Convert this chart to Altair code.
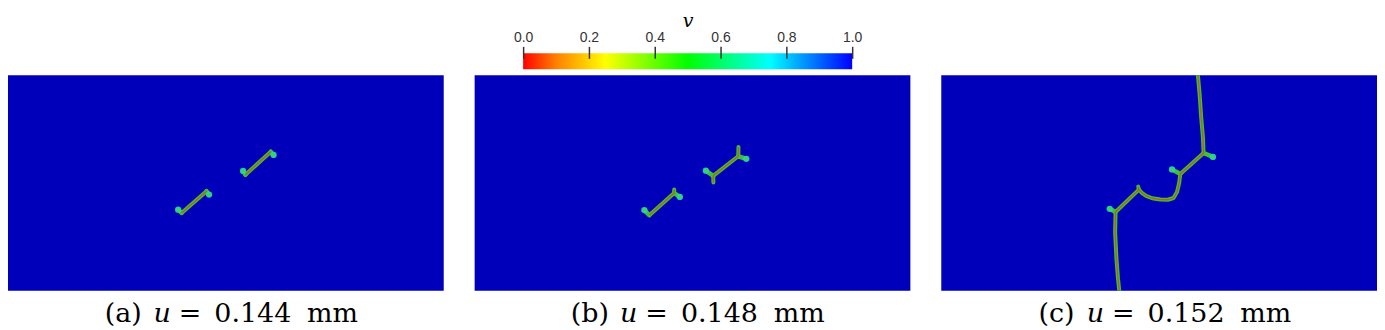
import altair as alt
import pandas as pd

# ---------------- data ----------------
CB_TICKS = [0.0, 0.2, 0.4, 0.6, 0.8, 1.0]
CB_STOP_OFFSETS = [0.0, 0.1, 0.25, 0.5, 0.75, 1.0]
CB_STOP_COLORS = ["#ff0000", "#ff8000", "#ffff00", "#00ff00", "#00ffff", "#0000ff"]

PANEL_LABELS = ["(a)", "(b)", "(c)"]
U_VALUES = ["0.144", "0.148", "0.152"]

# panel (a): crack paths (x, y) in specimen units (2 x 1)
A_CRACKS = [
    [(0.797, 0.361), (0.911, 0.462)],
    [(1.090, 0.538), (1.206, 0.645)],
]
A_STUBS = [
    [(0.797, 0.361), (0.781, 0.376)],
    [(0.911, 0.462), (0.923, 0.446)],
    [(1.090, 0.538), (1.079, 0.556)],
    [(1.206, 0.645), (1.219, 0.630)],
]

# panel (b)
B_CRACKS = [
    [(0.802, 0.350), (0.916, 0.453)],
    [(1.095, 0.533), (1.210, 0.624)],
    [(0.916, 0.453), (0.916, 0.470)],
    [(1.095, 0.533), (1.096, 0.502)],
    [(1.210, 0.624), (1.211, 0.667)],
]
B_STUBS = [
    [(0.802, 0.350), (0.779, 0.374)],
    [(0.916, 0.453), (0.942, 0.435)],
    [(1.095, 0.533), (1.061, 0.557)],
    [(1.210, 0.624), (1.247, 0.612)],
]

# panel (c)
C_CRACKS = [
    [(1.178, 1.000), (1.186, 0.910), (1.193, 0.804), (1.201, 0.712), (1.204, 0.639),
     (1.097, 0.542), (1.092, 0.500), (1.082, 0.458), (1.066, 0.430), (1.040, 0.422),
     (1.006, 0.423), (0.968, 0.429), (0.940, 0.440), (0.922, 0.453), (0.907, 0.469),
     (0.800, 0.365), (0.798, 0.271), (0.804, 0.149), (0.811, 0.058), (0.817, 0.000)],
    [(0.907, 0.469), (0.904, 0.483)],
]
C_STUBS = [
    [(1.204, 0.639), (1.247, 0.621)],
    [(1.097, 0.542), (1.059, 0.563)],
    [(0.800, 0.365), (0.773, 0.380)],
]

# ---------------- style ----------------
PW, PH = 437, 216
BG = "#0000bb"
GREEN = "#3fbf3a"
CORE = "#c8500a"
SERIF = "DejaVu Serif"
CAP_Y = PH + 31
CAP_SIZE = 27
CAP_OFFS = {"lab": -103, "u": -64, "eq": -36, "num": 27, "mm": 107}


def lines_df(paths):
    rows = []
    for pid, path in enumerate(paths):
        for i, (x, y) in enumerate(path):
            rows.append({"pid": pid, "i": i, "x": x, "y": y})
    return pd.DataFrame(rows)


def blobs_df(stubs):
    return pd.DataFrame([{"x": p[-1][0], "y": p[-1][1]} for p in stubs])


XS = alt.Scale(domain=[0, 2], nice=False, zero=False)
YS = alt.Scale(domain=[0, 1], nice=False, zero=False)


def panel(cracks, stubs, label, uval):
    bg = alt.Chart(pd.DataFrame({"x": [0], "x2": [2], "y": [0], "y2": [1]})).mark_rect(
        color=BG).encode(
        x=alt.X("x:Q", scale=XS, axis=None), x2="x2",
        y=alt.Y("y:Q", scale=YS, axis=None), y2="y2")

    cdf = lines_df(cracks)
    sdf = lines_df(stubs)
    enc = dict(x=alt.X("x:Q", scale=XS, axis=None),
               y=alt.Y("y:Q", scale=YS, axis=None),
               detail="pid:N", order="i:Q")
    stub_line = alt.Chart(sdf).mark_line(color=GREEN, strokeWidth=4.5, clip=True,
                                         strokeCap="round").encode(**enc)
    crack_green = alt.Chart(cdf).mark_line(color=GREEN, strokeWidth=4.0, clip=True,
                                           strokeCap="round", strokeJoin="round").encode(**enc)
    crack_core = alt.Chart(cdf).mark_line(color=CORE, strokeWidth=1.3, clip=True,
                                          opacity=0.85, strokeJoin="round").encode(**enc)
    bdf = blobs_df(stubs)
    halo = alt.Chart(bdf).mark_point(filled=True, color="#22d8b0", size=40, opacity=0.9).encode(
        x=alt.X("x:Q", scale=XS, axis=None), y=alt.Y("y:Q", scale=YS, axis=None))
    inner = alt.Chart(bdf).mark_point(filled=True, color="#4ccf45", size=12, opacity=1).encode(
        x=alt.X("x:Q", scale=XS, axis=None), y=alt.Y("y:Q", scale=YS, axis=None))

    cap = pd.DataFrame({"lab": [label], "u": ["u"], "eq": ["="], "num": [uval], "mm": ["mm"]})
    texts = []
    for key in ["lab", "u", "eq", "num", "mm"]:
        style = "italic" if key == "u" else "normal"
        texts.append(alt.Chart(cap).mark_text(
            font=SERIF, fontSize=CAP_SIZE, fontStyle=style, color="black",
            align="center", baseline="alphabetic").encode(
            text=f"{key}:N",
            x=alt.value(PW / 2 + CAP_OFFS[key]),
            y=alt.value(CAP_Y)))

    return alt.layer(bg, stub_line, crack_green, crack_core, halo, inner, *texts).properties(
        width=PW, height=PH)


pa = panel(A_CRACKS, A_STUBS, PANEL_LABELS[0], U_VALUES[0])
pb = panel(B_CRACKS, B_STUBS, PANEL_LABELS[1], U_VALUES[1])
pc = panel(C_CRACKS, C_STUBS, PANEL_LABELS[2], U_VALUES[2])

grad = alt.LinearGradient(
    gradient="linear",
    stops=[alt.GradientStop(color=c, offset=o) for c, o in zip(CB_STOP_COLORS, CB_STOP_OFFSETS)],
    x1=0, x2=1, y1=0, y2=0)

colorbar = alt.Chart(pd.DataFrame({"a": [0.0], "b": [1.0]})).mark_rect(fill=grad).encode(
    x=alt.X("a:Q", scale=alt.Scale(domain=[0, 1], nice=False),
            axis=alt.Axis(orient="top", values=CB_TICKS, format=".1f", title="v",
                          offset=-5, tickSize=12, tickWidth=1.5, tickColor="#333333",
                          domain=False, grid=False, labelFlush=False, zindex=1,
                          labelFont="Liberation Sans", labelFontSize=14, labelColor="#333333",
                          labelPadding=2, titleFont=SERIF, titleFontStyle="italic",
                          titleFontWeight="normal", titleFontSize=19, titleColor="black",
                          titlePadding=0)),
    x2="b",
    y=alt.value(0), y2=alt.value(16),
).properties(width=330, height=16)

row = alt.hconcat(pa, pb, pc, spacing=31)
chart = alt.vconcat(colorbar, row, spacing=6, center=True).properties(
    padding={"left": 0, "right": 0, "top": 3, "bottom": 0}, background="white"
).configure_view(stroke=None)

chart.save("out.html", embed_options={"renderer": "svg", "actions": False})
